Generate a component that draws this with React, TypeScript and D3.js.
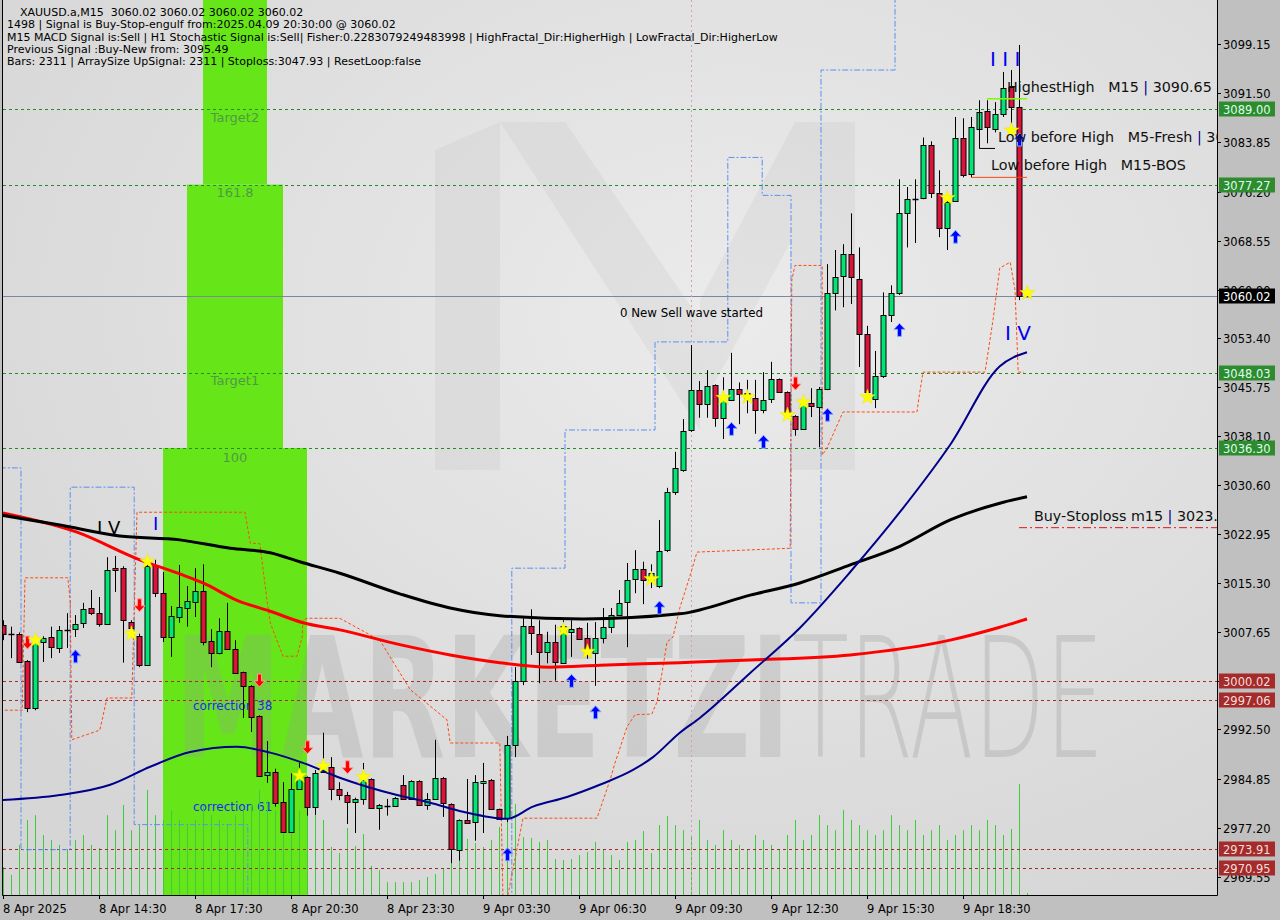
import * as d3 from 'd3'

// ---- bars (M15), index 0 = 8 Apr 11:30 ----
const opens = [
  3008.8, 3007.4, 3007.4, 3003.2, 2995.9, 3006.1, 3006.9, 3005.2, 3008.0, 3008.1,
  3009.1, 3011.4, 3010.6, 3008.9, 3017.6, 3017.6, 3009.2, 3007.0, 3002.5, 3018.1,
  3013.7, 3006.9, 3010.0, 3011.4, 3012.3, 3014.0, 3006.3, 3004.4, 3007.8, 3005.0,
  3001.4, 2999.3, 2994.6, 2985.4, 2985.9, 2981.2, 2976.6, 2983.3, 2985.1, 2980.5,
  2985.9, 2986.7, 2983.3, 2982.3, 2981.2, 2981.7, 2984.8, 2980.3, 2980.6, 2980.6,
  2983.9, 2981.7, 2984.5, 2980.8, 2981.7, 2985.0, 2980.9, 2973.8, 2978.4, 2978.1,
  2984.2, 2984.7, 2980.1, 2978.7, 2990.1, 3000.1, 3008.6, 3007.4, 3004.6, 3006.1,
  3002.8, 3007.7, 3008.3, 3006.7, 3004.4, 3006.7, 3008.4, 3010.3, 3012.3, 3015.9,
  3017.5, 3015.8, 3014.8, 3020.4, 3029.4, 3032.9, 3039.1, 3045.3, 3043.1, 3046.1,
  3041.0, 3043.7, 3045.5, 3044.8, 3044.1, 3042.2, 3043.9, 3047.0, 3045.0, 3041.3,
  3039.2, 3043.3, 3042.7, 3045.5, 3060.4, 3063.0, 3066.5, 3062.6, 3054.0, 3043.9,
  3047.5, 3057.0, 3060.4, 3072.8, 3075.0, 3075.2, 3083.4, 3075.9, 3070.5, 3074.8,
  3084.5, 3079.0, 3086.0, 3088.7, 3086.0, 3088.2, 3092.4, 3089.3, 3060.02,
]
const highs = [
  3009.5, 3008.5, 3007.6, 3003.3, 3006.9, 3007.0, 3008.5, 3008.6, 3010.6, 3010.3,
  3012.2, 3014.2, 3013.1, 3019.3, 3019.5, 3017.9, 3009.5, 3007.4, 3018.9, 3018.9,
  3017.0, 3011.7, 3018.1, 3014.8, 3017.6, 3018.2, 3008.1, 3009.8, 3012.2, 3006.4,
  3001.5, 2999.4, 2994.7, 2990.7, 2986.4, 2984.3, 2985.7, 2987.3, 2985.2, 2986.2,
  2992.0, 2988.2, 2984.3, 2982.8, 2981.9, 2987.3, 2984.9, 2980.9, 2981.7, 2982.0,
  2985.4, 2984.6, 2984.6, 2982.6, 2990.9, 2985.1, 2981.0, 2978.5, 2984.8, 2985.4,
  2987.3, 2984.8, 2980.2, 2991.5, 3002.2, 3009.8, 3011.2, 3009.5, 3007.7, 3008.8,
  3009.5, 3009.5, 3008.4, 3009.1, 3009.2, 3011.4, 3011.4, 3014.2, 3018.4, 3020.4,
  3018.6, 3018.2, 3025.1, 3030.1, 3035.7, 3040.8, 3052.3, 3046.7, 3048.4, 3046.2,
  3047.3, 3051.1, 3046.5, 3046.9, 3046.9, 3048.1, 3049.7, 3047.1, 3045.1, 3041.4,
  3044.2, 3045.6, 3045.8, 3064.9, 3067.1, 3068.0, 3072.8, 3067.5, 3055.3, 3051.4,
  3060.5, 3061.6, 3078.1, 3076.9, 3078.1, 3084.6, 3084.0, 3079.5, 3075.9, 3087.8,
  3087.6, 3087.8, 3090.4, 3090.4, 3090.1, 3094.8, 3095.1, 3099.0, 3060.02,
]
const lows = [
  3006.4, 3003.6, 3002.9, 2995.2, 2995.5, 3003.0, 3003.6, 3004.4, 3005.2, 3006.9,
  3008.3, 3010.3, 3008.5, 3008.9, 3013.9, 3002.9, 3007.4, 3002.2, 3002.4, 3013.1,
  3006.1, 3003.8, 3009.1, 3008.5, 3010.0, 3005.6, 3002.2, 3004.2, 3004.9, 3001.2,
  2994.3, 2992.1, 2985.1, 2984.2, 2980.5, 2976.5, 2976.5, 2983.1, 2979.1, 2979.2,
  2985.8, 2981.5, 2981.5, 2977.8, 2976.4, 2980.8, 2980.2, 2976.9, 2979.1, 2980.5,
  2981.6, 2981.6, 2980.7, 2980.0, 2981.6, 2978.9, 2971.7, 2972.1, 2977.8, 2975.2,
  2976.4, 2980.0, 2978.5, 2978.1, 2988.2, 2999.4, 3004.1, 2999.7, 3002.8, 3000.1,
  3002.7, 3003.8, 3006.5, 3003.5, 2999.3, 3005.9, 3007.5, 3010.2, 3005.3, 3013.7,
  3012.0, 3014.5, 3014.5, 3020.1, 3029.0, 3032.6, 3038.8, 3041.0, 3041.0, 3039.6,
  3037.7, 3043.6, 3040.0, 3041.7, 3038.5, 3041.7, 3043.3, 3044.9, 3041.3, 3038.2,
  3039.1, 3041.1, 3036.4, 3045.3, 3057.7, 3058.2, 3058.7, 3048.9, 3044.5, 3042.5,
  3047.2, 3055.9, 3060.1, 3067.5, 3068.2, 3075.0, 3075.2, 3069.1, 3067.1, 3074.7,
  3078.4, 3078.4, 3082.9, 3083.7, 3085.4, 3087.8, 3085.7, 3059.3, 3060.02,
]
const closes = [
  3007.4, 3007.4, 3003.0, 2995.9, 3006.1, 3006.7, 3005.3, 3008.0, 3008.0, 3008.9,
  3011.2, 3010.6, 3008.9, 3017.3, 3017.3, 3009.5, 3008.3, 3002.5, 3017.9, 3013.7,
  3006.9, 3010.2, 3011.6, 3012.5, 3014.0, 3006.1, 3004.4, 3007.8, 3005.0, 3001.3,
  2999.3, 2994.5, 2985.3, 2985.9, 2981.1, 2976.6, 2983.3, 2985.1, 2980.5, 2985.7,
  2986.5, 2983.3, 2982.3, 2981.2, 2981.7, 2984.7, 2980.3, 2980.8, 2980.6, 2981.9,
  2981.7, 2984.5, 2980.8, 2981.7, 2985.0, 2981.1, 2973.9, 2978.4, 2977.9, 2984.3,
  2984.5, 2980.1, 2978.6, 2990.1, 3000.1, 3008.6, 3007.5, 3004.6, 3006.1, 3003.0,
  3008.6, 3008.1, 3006.6, 3004.9, 3006.7, 3008.4, 3010.3, 3012.2, 3015.8, 3017.5,
  3015.8, 3016.8, 3020.3, 3029.4, 3033.2, 3038.9, 3045.3, 3043.1, 3045.9, 3041.0,
  3043.7, 3045.5, 3044.7, 3043.7, 3042.2, 3043.7, 3047.0, 3045.0, 3041.9, 3039.2,
  3043.1, 3042.8, 3045.5, 3060.4, 3062.9, 3066.5, 3062.9, 3054.0, 3045.0, 3047.5,
  3057.0, 3060.4, 3072.8, 3075.0, 3075.0, 3083.4, 3075.9, 3070.5, 3074.5, 3084.5,
  3078.7, 3086.2, 3088.5, 3086.2, 3088.2, 3092.3, 3089.3, 3060.0, 3060.02,
]
const volumes = [
  930, 670, 1670, 2500, 2660, 2000, 1830, 1670, 1500, 1830,
  2000, 1670, 1570, 2660, 2160, 3000, 2160, 2330, 3500, 2660,
  2500, 2830, 2500, 2330, 2500, 3000, 2660, 2500, 2330, 2660,
  2830, 3000, 3500, 3160, 2830, 3160, 3000, 2830, 3000, 2660,
  2500, 1600, 1400, 2230, 1630, 2030, 970, 830, 430, 430,
  430, 430, 500, 600, 700, 870, 1070, 1200, 1870, 1730,
  1600, 1830, 2270, 3030, 3030, 1930, 1900, 1770, 1830, 1200,
  1170, 1200, 1330, 1430, 1770, 1530, 1330, 1170, 1770, 1830,
  2130, 1400, 2330, 2630, 2330, 2160, 2000, 2500, 1830, 1670,
  2160, 1830, 1670, 1500, 2000, 1830, 1670, 1500, 2000, 2500,
  1830, 2000, 2660, 2330, 2160, 2830, 2500, 2330, 2160, 2000,
  2160, 2660, 2330, 2160, 2500, 2000, 2160, 2330, 1830, 2000,
  2160, 2330, 2160, 2500, 2330, 2000, 2200, 3700, 70,
]

const timeLabels = [
  '8 Apr 2025', '8 Apr 14:30', '8 Apr 17:30', '8 Apr 20:30', '8 Apr 23:30', '9 Apr 03:30',
  '9 Apr 06:30', '9 Apr 09:30', '9 Apr 12:30', '9 Apr 15:30', '9 Apr 18:30',
]
const timeLabelBars = [0, 12, 24, 36, 48, 60, 72, 84, 96, 108, 120]
const priceTicks = [
  3099.15, 3091.5, 3083.85, 3076.2, 3068.55, 3060.9, 3053.4, 3045.75, 3038.1, 3030.6,
  3022.95, 3015.3, 3007.65, 3000.0, 2992.5, 2984.85, 2977.2, 2969.55,
]

const greenLevels = [3089.0, 3077.27, 3048.03, 3036.3]
const redLevels = [3000.02, 2997.06, 2973.91, 2970.95]
const lastPrice = 3060.02
const buyStoploss = 3023.9
const highestHigh = 3090.65
const lowFresh = 3082.9
const lowBos = 3078.4

// moving averages, sampled [bar, price]
const maBlack: [number, number][] = [
  [-0.4, 3025.9], [7.1, 3024.3], [14.6, 3022.6], [22.1, 3022.0], [28.4, 3020.7], [33.4, 3020.0],
  [37.1, 3018.6], [42.1, 3016.8], [49.6, 3013.6], [55.9, 3011.4], [62.1, 3010.2], [72.5, 3009.7],
  [84.6, 3010.5], [93.4, 3013.4], [99.6, 3015.3], [105.9, 3018.1], [112.1, 3021.0], [118.4, 3025.1],
  [124.6, 3027.7], [128, 3028.7],
]
const maRed: [number, number][] = [
  [-0.4, 3026.3], [9.25, 3023.2], [17.1, 3018.9], [22.1, 3016.7], [25, 3015.3], [29.25, 3012.6],
  [33.4, 3010.9], [37.5, 3009.1], [42.1, 3008.0], [49.6, 3005.7], [55.9, 3004.1], [62.1, 3002.9],
  [68.4, 3002.2], [74.6, 3002.5], [84.6, 3002.9], [93.4, 3003.3], [105.9, 3004.1], [118.4, 3006.4],
  [124.6, 3008.4], [128, 3009.7],
]
const maNavy: [number, number][] = [
  [-0.4, 2981.5], [7.1, 2982.3], [13.4, 2983.9], [18.4, 2986.7], [23.4, 2989.0], [29.25, 2989.8],
  [33.4, 2988.9], [37.5, 2987.3], [42.1, 2985.0], [49.25, 2982.3], [53.4, 2981.1], [57.5, 2979.7],
  [63, 2978.6], [66.25, 2980.5], [70.5, 2982.0], [74.6, 2983.9], [78.75, 2986.2], [81.25, 2988.2],
  [84.6, 2992.0], [87.1, 2994.3], [93.4, 3001.3], [99.6, 3008.3], [105.9, 3017.0], [112.1, 3026.3],
  [118.4, 3036.8], [124.6, 3049.0], [128, 3051.2],
]
// trailing stop (orange) and fractal channel (blue)
const orangeStops: [number, number][] = [
  [-0.4, 2995.5], [2.4, 2995.5], [2.75, 3016.1], [8.1, 3016.1], [8.4, 3012.6], [8.6, 2990.9],
  [12.1, 2992.4], [13.0, 2997.4], [16.1, 2997.4], [16.75, 3026.3], [30.25, 3026.3], [30.9, 3021.5],
  [32.1, 3021.4], [33.0, 3012.6], [33.4, 3009.1], [35.0, 3003.9], [36.75, 3003.9], [37.4, 3006.9],
  [37.5, 3009.5], [38.0, 3009.8], [42.1, 3009.8], [47.1, 3006.4], [50.9, 2998.7], [55.5, 2994.0],
  [55.9, 2990.4], [62.1, 2990.4], [62.5, 2966.0], [63.0, 2966.0], [65.0, 2978.7], [74.25, 2978.7],
  [75.9, 2984.7], [76.5, 2987.3], [78.0, 2992.9], [79.0, 2994.8], [81.1, 2994.9], [81.75, 2996.8],
  [82.5, 3002.2], [83.0, 3006.1], [83.75, 3006.9], [84.6, 3011.4], [85.9, 3016.5], [86.75, 3020.1],
  [98.4, 3020.7], [98.6, 3062.4], [99.0, 3064.7], [102.4, 3064.7], [102.4, 3035.2], [103.0, 3036.3],
  [105.0, 3041.9], [114.25, 3041.9], [114.5, 3044.2], [115.0, 3048.1], [122.75, 3048.1],
  [123.75, 3056.2], [124.6, 3064.3], [125.9, 3065.2], [126.5, 3060.9], [126.9, 3048.1], [127.6, 3048.1],
]
const blueChannel: [number, number][] = [
  [-0.4, 3033.2], [2.25, 3033.2], [2.25, 2973.8], [8.4, 2973.8], [8.4, 3030.2], [16.4, 3030.2],
  [16.4, 2977.7], [30.6, 2977.7], [30.6, 2966.0], [63.6, 2966.0], [63.6, 3017.6], [70.25, 3017.6],
  [70.25, 3039.1], [81.5, 3039.1], [81.5, 3052.8], [90.6, 3052.8], [90.6, 3081.5], [94.9, 3081.5],
  [94.9, 3075.6], [98.5, 3075.6], [98.5, 3012.2], [102.25, 3012.2], [102.25, 3095.1], [111.5, 3095.1],
  [111.5, 3108.0],
]

// fibonacci boxes
const fibFrom = [25, 23, 20]
const fibTo = [33, 35, 38]
const fibTop = [3110, 3077.27, 3036.3]
const fibBottom = [3077.27, 3036.3, 2960]
const fibLabels = ['Target2', '161.8', 'Target1', '100']
const fibLabelPrices = [3087.8, 3076.1, 3046.9, 3034.9]
const corrLabels = ['correction 38', 'correction 61']
const corrPrices = [2996.2, 2980.5]

// signals
const starBars = [4, 16, 18, 37, 40, 45, 70, 73, 81, 90, 93, 98, 100, 108, 118, 126, 128]
const starPrices = [
  3006.4, 3007.4, 3018.6, 2985.3, 2986.8, 2985.1, 3008.0, 3004.6, 3015.9, 3044.1, 3044.2,
  3041.4, 3043.4, 3044.2, 3075.2, 3085.7, 3060.4,
]
const upBars = [9, 63, 71, 74, 82, 91, 95, 103, 112, 119, 127]
const upPrices = [3003.8, 2973.0, 3000.0, 2995.1, 3011.4, 3039.2, 3037.2, 3041.4, 3054.6, 3069.1, 3084.2]
const downBars = [3, 17, 32, 38, 43, 99]
const downPrices = [3006.1, 3011.9, 3000.2, 2989.8, 2986.7, 3046.4]

const headerLines = [
  'XAUUSD.a,M15  3060.02 3060.02 3060.02 3060.02',
  '1498 | Signal is Buy-Stop-engulf from:2025.04.09 20:30:00 @ 3060.02',
  'M15 MACD Signal is:Sell | H1 Stochastic Signal is:Sell| Fisher:0.2283079249483998 | HighFractal_Dir:HigherHigh | LowFractal_Dir:HigherLow',
  'Previous Signal :Buy-New from: 3095.49',
  'Bars: 2311 | ArraySize UpSignal: 2311 | Stoploss:3047.93 | ResetLoop:false',
]

const W = 1280
const H = 920
const PR = 1217
const PB = 895
const FONT = 'DejaVu Sans, Verdana, sans-serif'
const GREEN = '#00e676'
const RED = '#dc143c'

export default function App() {
  const x = d3.scaleLinear().domain([0, 128]).range([3, 1027])
  const y = d3.scaleLinear().domain([2969.55, 3099.15]).range([877, 44])
  const vy = d3.scaleLinear().domain([0, 5000]).range([PB, 745])
  const px = (i: number) => Math.round(x(i)) + 0.5

  const maLine = d3
    .line<[number, number]>()
    .x((d) => x(d[0]))
    .y((d) => y(d[1]))
    .curve(d3.curveMonotoneX)
  const stepLine = d3
    .line<[number, number]>()
    .x((d) => x(d[0]))
    .y((d) => y(d[1]))
  const star = d3.symbol(d3.symbolStar, 72)()

  const upArrow = (cx: number, cy: number) =>
    `M${cx},${cy - 7}L${cx + 5.5},${cy - 1}L${cx + 2},${cy - 1}L${cx + 2},${cy + 6}L${cx - 2},${cy + 6}L${cx - 2},${cy - 1}L${cx - 5.5},${cy - 1}Z`
  const downArrow = (cx: number, cy: number) =>
    `M${cx},${cy + 7}L${cx + 5.5},${cy + 1}L${cx + 2},${cy + 1}L${cx + 2},${cy - 6}L${cx - 2},${cy - 6}L${cx - 2},${cy + 1}L${cx - 5.5},${cy + 1}Z`

  const rightLabel = (p: number, bg: string, fg: string, key: string) => (
    <g key={key}>
      <rect x={PR + 2} y={Math.round(y(p)) - 7.5} width={56} height={15} fill={bg} />
      <text x={PR + 6} y={Math.round(y(p)) + 4.5} fill={fg} fontSize={11.5} fontFamily={FONT}>
        {p.toFixed(2)}
      </text>
    </g>
  )

  // tick labels hidden behind a coloured level label are left out
  const labelled = [...greenLevels, ...redLevels, lastPrice]
  const visibleTicks = priceTicks.filter((p) => labelled.every((q) => Math.abs(y(p) - y(q)) > 4))

  return (
    <svg
      width={W}
      height={H}
      style={{ position: 'absolute', left: 0, top: 0, background: '#c0c0c0' }}
      fontFamily={FONT}
    >
      <defs>
        <radialGradient id="bg" cx="0.6" cy="0.35" r="0.75">
          <stop offset="0" stopColor="#ebebeb" />
          <stop offset="1" stopColor="#d6d6d6" />
        </radialGradient>
        <clipPath id="plot">
          <rect x={3} y={0} width={PR - 3} height={PB} />
        </clipPath>
      </defs>
      <rect x={0} y={0} width={W} height={H} fill="#c0c0c0" />
      <rect x={3} y={0} width={PR - 3} height={PB} fill="url(#bg)" />

      <g clipPath="url(#plot)">
        {/* fib boxes */}
        {fibFrom.map((f, k) => (
          <rect
            key={'fb' + k}
            x={x(f)}
            y={y(fibTop[k])}
            width={x(fibTo[k]) - x(f)}
            height={y(fibBottom[k]) - y(fibTop[k])}
            fill="#66e619"
          />
        ))}

        {/* watermark */}
        <g fill="#a8a8a8" opacity={0.13}>
          <polygon points="435,150 500,122 500,470 435,470" />
          <polygon points="500,122 565,122 700,320 700,430" />
          <polygon points="855,122 795,122 700,300 700,410" />
          <polygon points="790,150 855,122 855,470 790,470" />
        </g>
        <text
          x={175}
          y={757}
          fontSize={168}
          fontWeight="bold"
          fill="#9a9a9a"
          opacity={0.26}
          textLength={615}
          lengthAdjust="spacingAndGlyphs"
        >
          MARKETZI
        </text>
        <text
          x={792}
          y={757}
          fontSize={168}
          fontWeight={200}
          fill="#9a9a9a"
          opacity={0.3}
          textLength={312}
          lengthAdjust="spacingAndGlyphs"
        >
          TRADE
        </text>

        {fibLabels.map((t, k) => (
          <text
            key={'fl' + k}
            x={x(29)}
            y={y(fibLabelPrices[k]) + 5}
            textAnchor="middle"
            fontSize={13}
            fill="#4f9a44"
          >
            {t}
          </text>
        ))}
        {corrLabels.map((t, k) => (
          <text key={'cl' + k} x={193} y={y(corrPrices[k]) + 4} fontSize={12} fill="#1a2cf0">
            {t}
          </text>
        ))}

        {/* volumes */}
        {volumes.map((v, i) => (
          <line key={'v' + i} x1={px(i)} x2={px(i)} y1={PB} y2={vy(v)} stroke="#3ccc3c" strokeWidth={1} />
        ))}

        {/* level lines */}
        {greenLevels.map((p) => (
          <line key={'g' + p} x1={3} x2={PR} y1={Math.round(y(p)) + 0.5} y2={Math.round(y(p)) + 0.5} stroke="#1f8f1f" strokeDasharray="3 3" />
        ))}
        {redLevels.map((p) => (
          <line key={'r' + p} x1={3} x2={PR} y1={Math.round(y(p)) + 0.5} y2={Math.round(y(p)) + 0.5} stroke="#a52a2a" strokeDasharray="3 3" />
        ))}
        <line x1={3} x2={PR} y1={Math.round(y(lastPrice)) + 0.5} y2={Math.round(y(lastPrice)) + 0.5} stroke="#7a8898" />
        <line x1={px(86)} x2={px(86)} y1={0} y2={PB} stroke="#c9a3b9" strokeDasharray="2 3" />

        {/* channels */}
        <path d={stepLine(blueChannel) ?? ''} fill="none" stroke="#5b8ff0" strokeWidth={1} strokeDasharray="6 2 2 2" />
        <path d={stepLine(orangeStops) ?? ''} fill="none" stroke="#ff4a10" strokeWidth={1} strokeDasharray="3 2" />

        {/* candles */}
        {opens.map((o, i) => {
          const c = closes[i]
          const cx = px(i)
          const top = Math.round(y(Math.max(o, c))) + 0.5
          const bot = Math.round(y(Math.min(o, c))) + 0.5
          return (
            <g key={'c' + i}>
              <line x1={cx} x2={cx} y1={y(highs[i])} y2={y(lows[i])} stroke="#000" />
              {bot - top < 1 ? (
                <line x1={cx - 3} x2={cx + 3} y1={top} y2={top} stroke="#000" strokeWidth={1.5} />
              ) : (
                <rect x={cx - 2.5} y={top} width={5} height={bot - top} fill={c >= o ? GREEN : RED} stroke="#000" />
              )}
            </g>
          )
        })}

        {/* moving averages */}
        <path d={maLine(maRed) ?? ''} fill="none" stroke="#ff0000" strokeWidth={3} />
        <path d={maLine(maBlack) ?? ''} fill="none" stroke="#000" strokeWidth={3} />
        <path d={maLine(maNavy) ?? ''} fill="none" stroke="#00008b" strokeWidth={2} />

        {/* objects on the right */}
        <line x1={x(123)} x2={x(128)} y1={y(highestHigh)} y2={y(highestHigh)} stroke="#7cfc00" strokeWidth={1.5} />
        <path d={`M${px(122)},${y(3088.5)}V${y(lowFresh)}H${x(124)}`} fill="none" stroke="#000" />
        <line x1={x(121)} x2={x(128)} y1={y(lowBos)} y2={y(lowBos)} stroke="#ff4a10" />
        <line x1={x(127)} x2={PR} y1={y(buyStoploss)} y2={y(buyStoploss)} stroke="#dd1a1a" strokeDasharray="8 3 2 3" />

        {/* signals */}
        {upBars.map((b, k) => (
          <path key={'u' + k} d={upArrow(px(b), y(upPrices[k]))} fill="#0000ff" stroke="#7ea6ff" strokeWidth={1} />
        ))}
        {downBars.map((b, k) => (
          <path key={'d' + k} d={downArrow(px(b), y(downPrices[k]))} fill="#ff0000" stroke="#ff9a9a" strokeWidth={1} />
        ))}
        {starBars.map((b, k) => (
          <path key={'s' + k} d={star ?? ''} transform={`translate(${px(b)},${y(starPrices[k])})`} fill="#ffff00" stroke="#e8e800" strokeWidth={0.5} />
        ))}

        {/* texts */}
        <text x={97} y={534} fontSize={18} fill="#000" style={{ whiteSpace: 'pre' }}>
          I V
        </text>
        <text x={153} y={530} fontSize={18} fill="#0000ee">
          I
        </text>
        <text x={990} y={66} fontSize={20} fill="#0000ee" style={{ whiteSpace: 'pre' }}>
          I I I
        </text>
        <text x={1005} y={340} fontSize={20} fill="#0000ee" style={{ whiteSpace: 'pre' }}>
          I V
        </text>
        <text x={620} y={317} fontSize={11.8} fill="#000">
          0 New Sell wave started
        </text>
        <text x={1007} y={92} fontSize={14.3} fill="#111" style={{ whiteSpace: 'pre' }}>
          {'HighestHigh   M15 '}
          <tspan fill="#00008b">|</tspan>
          {' 3090.65'}
        </text>
        <text x={998} y={142} fontSize={14.3} fill="#111" style={{ whiteSpace: 'pre' }}>
          {'Low before High   M5-Fresh '}
          <tspan fill="#00008b">|</tspan>
          {' 3082.90'}
        </text>
        <text x={991} y={170} fontSize={14.3} fill="#111" style={{ whiteSpace: 'pre' }}>
          {'Low before High   M15-BOS'}
        </text>
        <text x={1034} y={521} fontSize={14.3} fill="#111" style={{ whiteSpace: 'pre' }}>
          {'Buy-Stoploss m15 '}
          <tspan fill="#00008b">|</tspan>
          {' 3023.93'}
        </text>

        {headerLines.map((t, k) => (
          <text key={'h' + k} x={k === 0 ? 20 : 7} y={16 + k * 12.3} fontSize={11} fill="#000" style={{ whiteSpace: 'pre' }}>
            {t}
          </text>
        ))}
      </g>

      {/* frame */}
      <path d={`M2.5,0V${PB + 0.5}H${PR + 0.5}V0`} fill="none" stroke="#000" />

      {/* price axis */}
      {priceTicks.map((p) => (
        <line key={'pk' + p} x1={PR} x2={PR + 4} y1={Math.round(y(p)) + 0.5} y2={Math.round(y(p)) + 0.5} stroke="#000" />
      ))}
      {visibleTicks.map((p) => (
        <text key={'pt' + p} x={PR + 6} y={Math.round(y(p)) + 4.5} fontSize={11.5} fill="#000">
          {p.toFixed(2)}
        </text>
      ))}
      {greenLevels.map((p) => rightLabel(p, '#2e8b2e', '#dfe', 'gl' + p))}
      {redLevels.map((p) => rightLabel(p, '#a52a2a', '#f2dede', 'rl' + p))}
      {rightLabel(lastPrice, '#000', '#fff', 'last')}

      {/* time axis */}
      {timeLabelBars.map((b, k) => (
        <g key={'tl' + k}>
          <line x1={px(b)} x2={px(b)} y1={PB} y2={PB + 4} stroke="#000" />
          <text x={px(b) - 0.5} y={913} fontSize={11.5} fill="#000">
            {timeLabels[k]}
          </text>
        </g>
      ))}
    </svg>
  )
}
